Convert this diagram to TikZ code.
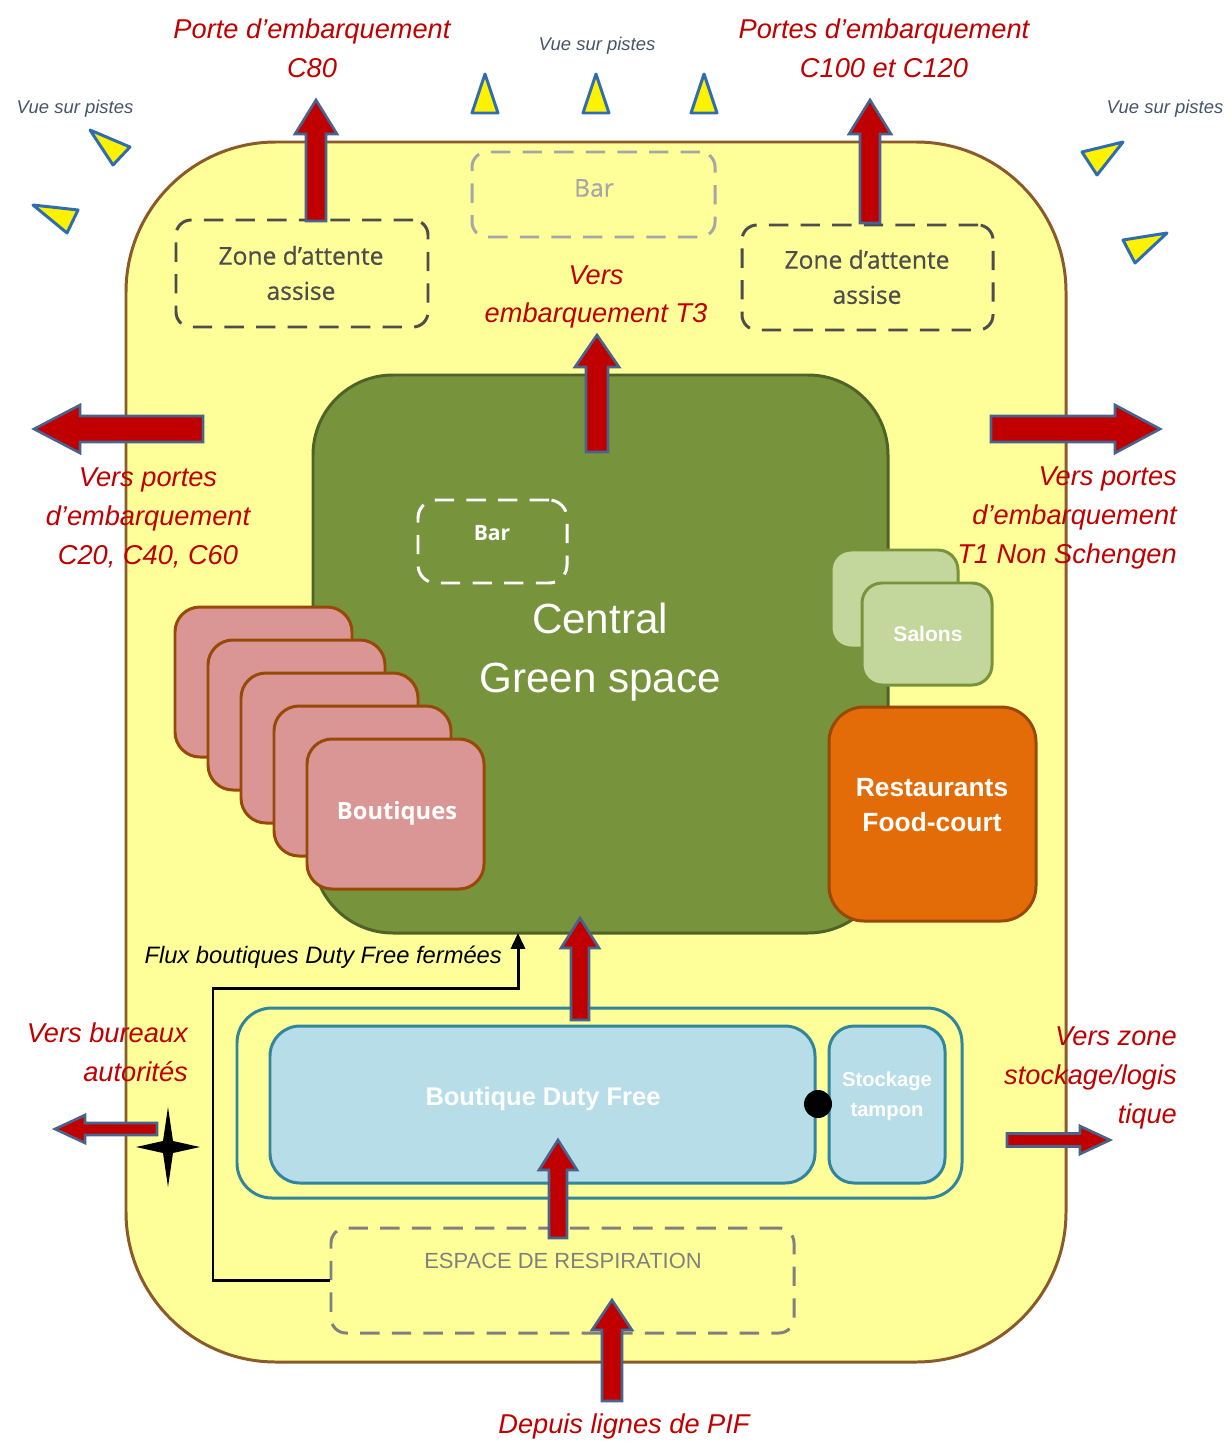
\documentclass[tikz,border=0pt]{standalone}
\usepackage{fontspec}
\setmainfont{Liberation Sans}
\newfontfamily\osans{Open Sans}
\newfontfamily\osanssemi[FakeBold=0.6]{Open Sans}
\usetikzlibrary{fit,arrows.meta}

\definecolor{terminal}{HTML}{FFFF99}
\definecolor{terminaledge}{HTML}{8B5A2B}
\definecolor{lblred}{HTML}{C00000}
\definecolor{arrowedge}{HTML}{46648C}
\definecolor{triedge}{HTML}{2E6DB4}
\definecolor{vuetext}{HTML}{44546A}
\definecolor{green}{HTML}{77933C}
\definecolor{greenedge}{HTML}{4F6228}
\definecolor{pink}{HTML}{D99694}
\definecolor{brownedge}{HTML}{984807}
\definecolor{salon}{HTML}{C3D69B}
\definecolor{orange}{HTML}{E36C09}
\definecolor{dutyfree}{HTML}{B7DEE8}
\definecolor{teal}{HTML}{31859C}
\definecolor{zonegray}{HTML}{4D4D4D}

% block arrow: #1 tail, #2 direction, #3 length, #4 shaft width, #5 head width, #6 head length
\newcommand{\blockarrow}[6]{%
  \filldraw[barrow, shift={(#1)}, rotate=#2]
    (0,{-#4/2}) -- ({#3-#6},{-#4/2}) -- ({#3-#6},{-#5/2}) -- (#3,0)
    -- ({#3-#6},{#5/2}) -- ({#3-#6},{#4/2}) -- (0,{#4/2}) -- cycle;}

\begin{document}
\begin{tikzpicture}[x=0.02cm,y=-0.02cm,
  area/.style={inner sep=0pt, line width=1.7pt},
  zone/.style={area, draw=#1, dash pattern=on 11pt off 7pt, rounded corners=0.3cm},
  lbl/.style={text=lblred, font=\fontsize{15.5}{22}\selectfont\itshape, align=center},
  vue/.style={text=vuetext, font=\fontsize{10.5}{12}\selectfont\itshape},
  vuetri/.style={fill=yellow, draw=triedge, line width=1.7pt, line join=round},
  barrow/.style={fill=lblred, draw=arrowedge, line width=1.5pt, line join=miter},
  whitebold/.style={text=white, font=\fontsize{#1}{18}\selectfont\bfseries, align=center},
  zonetext/.style={text=zonegray, font=\fontsize{14}{20}\selectfont\osanssemi, align=center},
]
\useasboundingbox (0,0) rectangle (1230,1443);

% terminal outline
\node[area, fit={(126,142) (1066,1362)}, fill=terminal, draw=terminaledge, rounded corners=3cm] (terminal) {};

% central green space
\node[area, fit={(313,375) (888,933)}, fill=green, draw=greenedge, rounded corners=1.6cm] (green) {};
\node[text=white, font=\fontsize{24}{34}\selectfont, align=center] (greenlbl) at (600,652) {Central\\Green space};
\node[zone=white, fit={(418,500) (567,583)}, rounded corners=0.36cm] (bar2) {};
\node[whitebold=12] (bar2lbl) at (492,533) {\osans\bfseries Bar};

% shops
\foreach \i in {0,...,4}{
  \node[area, fit={({175+33*\i},{607+33*\i}) ({352+33*\i},{757+33*\i})}, fill=pink, draw=brownedge, rounded corners=0.5cm] (shop\i) {};
}
\node[whitebold=13.5] (shoplbl) at (397,813) {\osans\bfseries Boutiques};

% lounges and food court
\node[area, fit={(831,550) (958,648)}, fill=salon, draw=green, rounded corners=0.4cm] (salonback) {};
\node[area, fit={(862,583) (992,685)}, fill=salon, draw=green, rounded corners=0.4cm] (salon) {};
\node[whitebold=12] (salonlbl) at (928,634) {Salons};
\node[area, fit={(829,707) (1036,921)}, fill=orange, draw=brownedge, rounded corners=0.7cm] (resto) {};
\node[text=white, align=center, font=\fontsize{15}{20}\selectfont\bfseries] (restolbl) at (932,805) {Restaurants\\Food-court};

% upper waiting zones and bar
\node[zone=zonegray, fit={(176,220) (428,327)}] (zoneL) {};
\node[zonetext] (zoneLlbl) at (301,273) {Zone d’attente\\assise};
\node[zone=zonegray, fit={(742,225) (993,330)}] (zoneR) {};
\node[zonetext] (zoneRlbl) at (867,277) {Zone d’attente\\assise};
\node[zone=black!35, fit={(472,152) (715,237)}] (bar1) {};
\node[text=black!35, font=\fontsize{14}{18}\selectfont\osanssemi] (bar1lbl) at (594,188) {Bar};

% duty free block
\node[area, fit={(237,1008) (962,1198)}, draw=teal, rounded corners=0.7cm] (dfframe) {};
\node[area, fit={(270,1026) (815,1183)}, fill=dutyfree, draw=teal, rounded corners=0.6cm] (df) {};
\node[whitebold=14.5] (dflbl) at (543,1099) {Boutique Duty Free};
\node[area, fit={(829,1026) (945,1183)}, fill=dutyfree, draw=teal, rounded corners=0.5cm] (stock) {};
\node[text=white, align=center, font=\fontsize{11.5}{17}\selectfont\bfseries] (stocklbl) at (887,1096) {Stockage\\tampon};
\node[circle, fill=black, inner sep=0pt, minimum size=0.56cm] (door) at (818,1104) {};

% breathing space
\node[zone=black!50, fit={(331,1228) (794,1333)}] (espace) {};
\node[text=black!50, font=\fontsize{12.5}{15}\selectfont] (espacelbl) at (563,1261) {ESPACE DE RESPIRATION};

% closed duty-free bypass
\coordinate (fluxend) at (518,933);
\draw[line width=1.7pt, -{Triangle[length=9pt,width=8pt]}] (espace.west) -| (213,988) -| (fluxend);
\node[anchor=east, font=\fontsize{13.5}{16}\selectfont\itshape] (fluxlbl) at (508,957) {Flux boutiques Duty Free fermées};

% main flows
\coordinate (tC80) at (316,221);
\coordinate (tC100) at (870,223);
\coordinate (tT3) at (597,452);
\coordinate (tW) at (203,429);
\coordinate (tE) at (991,429);
\coordinate (tGreen) at (580,1020);
\coordinate (tDF) at (558,1238);
\coordinate (tPIF) at (612,1401);
\coordinate (tBur) at (157,1129);
\coordinate (tStock) at (1007,1140);
\blockarrow{tC80}{90}{121}{20}{42}{34}
\blockarrow{tC100}{90}{123}{20}{42}{34}
\blockarrow{tT3}{90}{117}{22}{44}{32}
\blockarrow{tW}{180}{169}{26}{48}{46}
\blockarrow{tE}{0}{169}{26}{48}{45}
\blockarrow{tGreen}{90}{102}{18}{38}{30}
\blockarrow{tDF}{90}{98}{18}{38}{30}
\blockarrow{tPIF}{90}{101}{20}{40}{30}
\blockarrow{tBur}{180}{102}{12}{28}{30}
\blockarrow{tStock}{0}{103}{13}{28}{30}

% authorities access point
\fill (168,1107) -- (173,1141) -- (200,1147) -- (173,1153) -- (168,1187)
      -- (163,1153) -- (136,1147) -- (163,1141) -- cycle;

% flow labels
\node[lbl] (lc80) at (312,48) {Porte d’embarquement\\C80};
\node[lbl] (lc100) at (884,48) {Portes d’embarquement\\C100 et C120};
\node[lbl] (lt3) at (596,297) {Vers\\embarquement T3};
\node[lbl] (lw) at (148,518) {Vers portes\\d’embarquement\\C20, C40, C60};
\node[lbl, anchor=east, align=right] (le) at (1183,518) {Vers portes\\d’embarquement\\T1 Non Schengen};
\node[lbl, anchor=east, align=right] (lbur) at (194,1052) {Vers bureaux\\autorités};
\node[lbl, anchor=east, align=right] (lstock) at (1183,1078) {Vers zone\\stockage/logis\\tique};
\node[lbl] (lpif) at (624,1426) {Depuis lignes de PIF};

% runway views
\node[vue] (vue1) at (75,109) {Vue sur pistes};
\node[vue] (vue2) at (597,46) {Vue sur pistes};
\node[vue] (vue3) at (1165,109) {Vue sur pistes};
\draw[vuetri] (485,74) -- (498,113) -- (472,113) -- cycle;
\draw[vuetri] (596,74) -- (609,113) -- (583,113) -- cycle;
\draw[vuetri] (704,74) -- (717,113) -- (691,113) -- cycle;
\draw[vuetri] (90,130) -- (130,147) -- (113,165) -- cycle;
\draw[vuetri] (33,205) -- (78,210) -- (67,233) -- cycle;
\draw[vuetri] (1123,142) -- (1082,152) -- (1097,175) -- cycle;
\draw[vuetri] (1167,233) -- (1123,240) -- (1135,263) -- cycle;
\end{tikzpicture}
\end{document}
